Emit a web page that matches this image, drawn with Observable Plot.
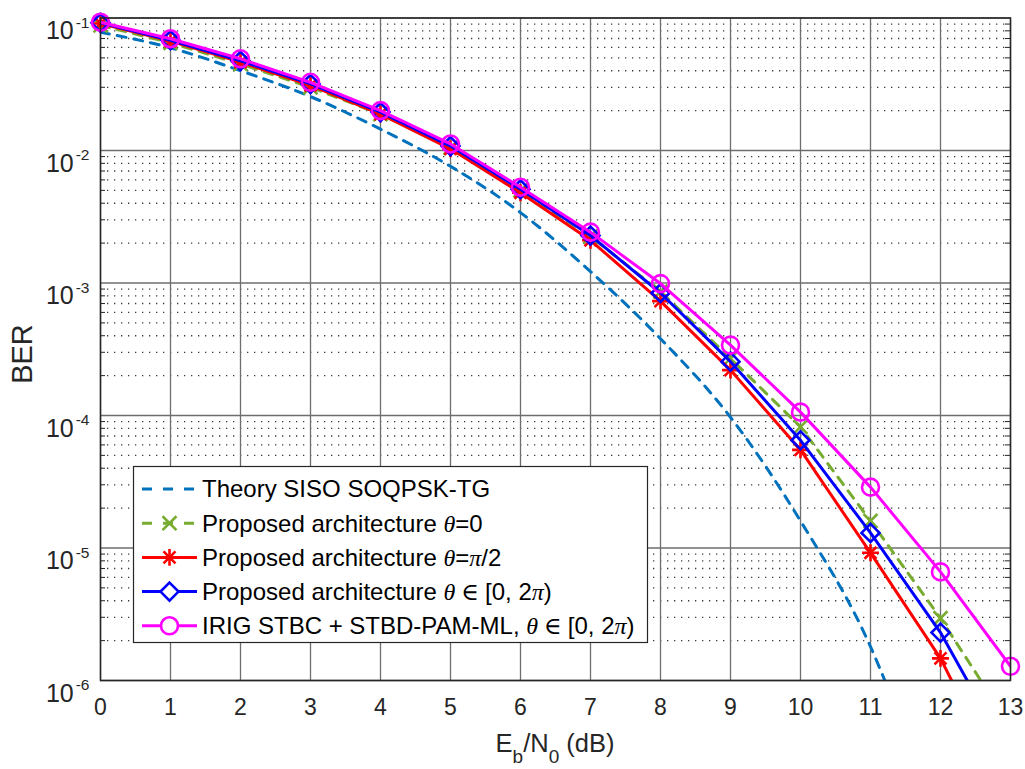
<!DOCTYPE html>
<html><head><meta charset="utf-8">
<script src="https://cdn.jsdelivr.net/npm/d3@7"></script>
<script src="https://cdn.jsdelivr.net/npm/@observablehq/plot@0.6"></script>
<style>
html,body{margin:0;padding:0;background:#fff;}
#chart{width:1025px;height:769px;}
#chart svg{font-family:"Liberation Sans",Arial,Helvetica,sans-serif;background:#fff;}
</style></head><body><div id="chart"></div>
<script>
// ---- data ----
const ebn0 = [0,1,2,3,4,5,6,7,8,9,10,11,12,13];
const theoryX = [0,1,2,3,4,5,6,7,8,9,10,11,11.5];
const theoryBER = [0.078,0.0596,0.040,0.0255,0.0145,0.0076,0.0034,0.00122,3.8e-4,9.7e-5,1.6e-5,1.8e-6,4e-7];
const berTheta0 = [0.088,0.065,0.045,0.030,0.0188,0.0105,0.0050,0.00225,8.6e-4,2.7e-4,8.2e-5,1.6e-5,2.95e-6,4.5e-7];
const berThetaPi2 = [0.091,0.067,0.0465,0.031,0.0188,0.0103,0.0048,0.0021,7.3e-4,2.2e-4,5.5e-5,9.2e-6,1.47e-6,1.3e-7];
const berThetaRand = [0.092,0.068,0.0475,0.0318,0.0195,0.0108,0.0051,0.00228,8.4e-4,2.55e-4,6.5e-5,1.3e-5,2.3e-6,2.6e-7];
const berIRIG = [0.093,0.0697,0.0492,0.0327,0.0200,0.0112,0.00528,0.00242,9.9e-4,3.4e-4,1.06e-4,2.88e-5,6.6e-6,1.28e-6];

const xTicks = [0,1,2,3,4,5,6,7,8,9,10,11,12,13];
const yMajor = [1e-6,1e-5,1e-4,1e-3,1e-2,1e-1];
const yMinor = yMajor.slice(0,-1).flatMap(d => [2,3,4,5,6,7,8,9].map(m => m*d));

const legendLabels = [
  [["Theory SISO SOQPSK-TG","s"]],
  [["Proposed architecture ","s"],["θ","i"],["=0","s"]],
  [["Proposed architecture ","s"],["θ","i"],["=","s"],["π","i"],["/2","s"]],
  [["Proposed architecture ","s"],["θ","i"],[" ∈ ","r"],["[0, 2","s"],["π","i"],[")","s"]],
  [["IRIG STBC + STBD-PAM-ML, ","s"],["θ","i"],[" ∈ ","r"],["[0, 2","s"],["π","i"],[")","s"]]
];

const series = [
  {x: theoryX, y: theoryBER, color: "#0072BD", dash: "9,8", symbols: [], r: 0, curve: "monotone-x"},
  {x: ebn0, y: berTheta0, color: "#77AC30", dash: "9,8", symbols: ["times"], r: 6.4, curve: "linear"},
  {x: ebn0, y: berThetaPi2, color: "#FF0000", dash: null, symbols: ["plus","times"], r: 5.5, curve: "linear"},
  {x: ebn0, y: berThetaRand, color: "#0000FF", dash: null, symbols: ["diamond2"], r: 8.1, curve: "linear"},
  {x: ebn0, y: berIRIG, color: "#FF00FF", dash: null, symbols: ["circle"], r: 8.5, curve: "linear"}
];
series.forEach((s, k) => { s.label = legendLabels[k]; s.rows = s.x.map((x, i) => ({x, y: s.y[i]})); });

const W = 1025, H = 769, mL = 100, mR = 15, mT = 17.5, mB = 89;
const innerW = W - mL - mR;

const marks = [
  Plot.ruleY(yMinor, {y: d => d, stroke: "#3a3a3a", strokeWidth: 1.3, strokeDasharray: "1.3,5.7"}),
  Plot.ruleY(yMajor, {y: d => d, stroke: "#6e6e6e", strokeWidth: 1.3}),
  Plot.ruleX(xTicks, {x: d => d, stroke: "#6e6e6e", strokeWidth: 1.3}),
  Plot.tickY(yMinor, {y: d => d, stroke: "#262626", strokeWidth: 1, insetRight: innerW - 5}),
  Plot.tickY(yMinor, {y: d => d, stroke: "#262626", strokeWidth: 1, insetLeft: innerW - 5})
];
for (const s of series) {
  marks.push(Plot.line(s.rows, {x: "x", y: "y", stroke: s.color, strokeWidth: 3, strokeDasharray: s.dash, curve: s.curve, clip: true}));
  for (const sym of s.symbols) {
    marks.push(Plot.dot(s.rows.filter(d => d.y >= 1e-6), {x: "x", y: "y", symbol: sym, r: s.r, stroke: s.color, strokeWidth: 2.6, fill: "none"}));
  }
}
marks.push(Plot.frame({stroke: "#262626", strokeWidth: 1.5}));
marks.push(Plot.axisX(xTicks, {tickSize: 0, tickPadding: 18, label: null}));
marks.push(Plot.axisY(yMajor, {tickSize: 0, tickPadding: 11, label: null,
  tickFormat: d => String(Math.round(Math.log10(d)))}));

const chart = Plot.plot({
  width: W, height: H,
  marginLeft: mL, marginRight: mR, marginTop: mT, marginBottom: mB,
  x: {domain: [0, 13]},
  y: {type: "log", domain: [1e-6, 1e-1]},
  style: {fontFamily: '"Liberation Sans", Arial, Helvetica, sans-serif', color: "#262626", background: "#fff"},
  marks
});
document.getElementById("chart").appendChild(chart);

const svg = d3.select(chart);
svg.selectAll('g[aria-label="x-axis tick label"] text').attr("font-size", 23);
// superscript exponents on y tick labels
svg.selectAll('g[aria-label="y-axis tick label"] text').each(function() {
  const t = d3.select(this);
  const e = t.text().replace("−", "-");
  t.text(null).attr("dy", "0.53em").attr("font-size", 25);
  t.append("tspan").text("10");
  t.append("tspan").attr("dx", 2).attr("dy", -11.6).attr("font-size", 15.5).text(e);
});

const fam = {s: '"Liberation Sans", Arial, sans-serif', i: '"Liberation Serif", "DejaVu Serif", serif', r: '"Liberation Serif", "DejaVu Serif", serif'};

// axis labels
const xl = svg.append("text").attr("x", (mL + W - mR) / 2).attr("y", 751.5).attr("text-anchor", "middle")
  .attr("font-size", 25.5).attr("fill", "#262626");
xl.append("tspan").text("E");
xl.append("tspan").attr("font-size", 19).attr("dy", 11).text("b");
xl.append("tspan").attr("dy", -11).text("/N");
xl.append("tspan").attr("font-size", 19).attr("dy", 11).text("0");
xl.append("tspan").attr("dy", -11).text(" (dB)");

svg.append("text").attr("transform", `translate(32,354) rotate(-90)`)
  .attr("text-anchor", "middle").attr("font-size", 29).attr("fill", "#262626").text("BER");

// legend
const lg = svg.append("g").attr("text-anchor", "start");
lg.append("rect").attr("x", 133.5).attr("y", 466.5).attr("width", 514).attr("height", 176)
  .attr("fill", "#fff").attr("stroke", "#262626").attr("stroke-width", 1.2);
series.forEach((s, k) => {
  const cy = 489 + k * 34.2;
  lg.append("line").attr("x1", 142).attr("x2", 197).attr("y1", cy).attr("y2", cy)
    .attr("stroke", s.color).attr("stroke-width", 3).attr("stroke-dasharray", s.dash ? "10,11" : null);
  const symMap = {times: d3.symbolTimes, plus: d3.symbolPlus, diamond2: d3.symbolDiamond2, circle: d3.symbolCircle};
  for (const sym of s.symbols) {
    lg.append("path").attr("d", d3.symbol(symMap[sym], Math.PI * s.r * s.r)())
      .attr("transform", `translate(169.5,${cy})`).attr("fill", "#fff").attr("stroke", s.color).attr("stroke-width", 2.6);
  }
  const t = lg.append("text").attr("x", 202).attr("y", cy).attr("dy", "0.35em").attr("text-anchor", "start")
    .attr("font-size", 24).attr("fill", "#000");
  for (const [txt, f] of s.label) {
    t.append("tspan").attr("font-family", fam[f]).attr("font-style", f === "i" ? "italic" : null).text(txt);
  }
});
</script>
</body></html>
